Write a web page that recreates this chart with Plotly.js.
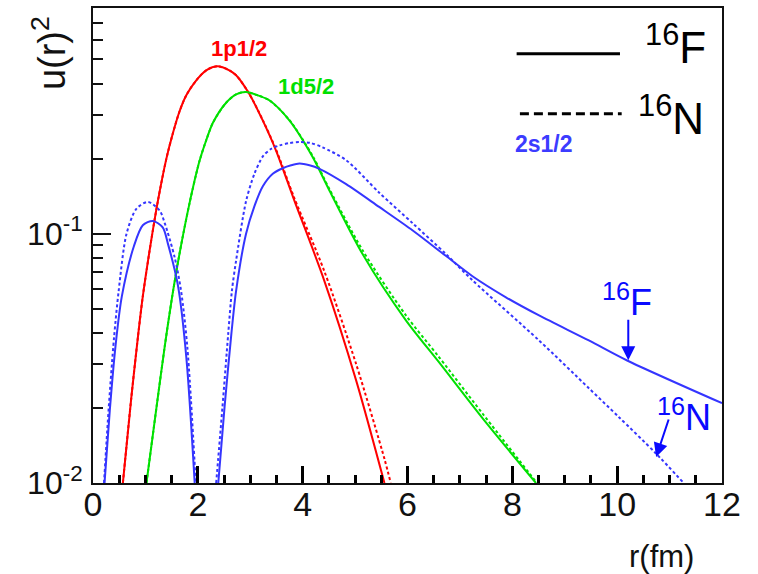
<!DOCTYPE html>
<html>
<head>
<meta charset="utf-8">
<script src="https://cdn.plot.ly/plotly-3.0.1.min.js"></script>
<style>html,body{margin:0;padding:0;background:#fff;}#chart{width:758px;height:574px;}</style>
</head>
<body>
<div id="chart"></div>
<script>
// ---- data (r in fm, u(r)^2) ----
const r_1p_F   = [0.57, 0.73, 0.86, 0.95, 1.10, 1.24, 1.40, 1.52, 1.65, 1.78, 1.97, 2.16, 2.38, 2.60, 2.73, 2.98, 3.24, 3.49, 3.84, 4.41, 5.02, 5.56];
const u2_1p_F  = [0.0100, 0.0219, 0.039, 0.056, 0.091, 0.136, 0.200, 0.251, 0.309, 0.359, 0.412, 0.452, 0.469, 0.452, 0.432, 0.364, 0.284, 0.216, 0.136, 0.065, 0.0258, 0.0100];
const r_1p_N   = [0.57, 0.73, 0.86, 0.95, 1.10, 1.24, 1.40, 1.52, 1.65, 1.78, 1.97, 2.16, 2.38, 2.60, 2.73, 2.98, 3.24, 3.49, 3.84, 4.41, 5.02, 5.56, 5.68];
const u2_1p_N  = [0.0100, 0.0219, 0.039, 0.056, 0.091, 0.136, 0.200, 0.251, 0.309, 0.359, 0.412, 0.452, 0.469, 0.452, 0.432, 0.364, 0.285, 0.218, 0.139, 0.071, 0.030, 0.0125, 0.0100];

const r_1d_F   = [1.02, 1.21, 1.37, 1.505, 1.65, 1.84, 2.03, 2.16, 2.29, 2.54, 2.73, 2.92, 3.14, 3.37, 3.75, 4.19, 4.51, 5.14, 5.97, 6.60, 7.43, 8.45];
const u2_1d_F  = [0.0100, 0.020, 0.0355, 0.055, 0.083, 0.132, 0.195, 0.237, 0.279, 0.335, 0.362, 0.370, 0.359, 0.342, 0.284, 0.203, 0.149, 0.083, 0.0449, 0.0305, 0.0182, 0.0100];
const r_1d_N   = [1.02, 1.21, 1.37, 1.505, 1.65, 1.84, 2.03, 2.16, 2.29, 2.54, 2.73, 2.92, 3.14, 3.37, 3.75, 4.19, 4.51, 5.14, 5.97, 6.60, 7.43, 8.47];
const u2_1d_N  = [0.0100, 0.020, 0.0355, 0.055, 0.083, 0.132, 0.195, 0.237, 0.279, 0.335, 0.362, 0.370, 0.359, 0.342, 0.285, 0.205, 0.151, 0.086, 0.047, 0.032, 0.019, 0.0100];

const r_2s_F   = [0.22, 0.32, 0.43, 0.55, 0.78, 0.95, 1.14, 1.33, 1.43, 1.62, 1.78, 1.94, null,
                  2.39, 2.51, 2.64, 2.73, 2.92, 3.08, 3.24, 3.43, 3.62, 3.78, 3.94, 4.13, 4.32, 4.83, 5.46, 6.10, 6.73, 7.24, 7.87, 8.51, 9.46, 10.19, 12.0];
const u2_2s_F  = [0.0100, 0.0195, 0.0355, 0.056, 0.089, 0.108, 0.1125, 0.106, 0.091, 0.062, 0.032, 0.0100, null,
                  0.0100, 0.0202, 0.0397, 0.059, 0.100, 0.129, 0.155, 0.174, 0.183, 0.188, 0.191, 0.188, 0.182, 0.158, 0.128, 0.103, 0.0815, 0.0675, 0.0557, 0.047, 0.0373, 0.031, 0.0209];
const r_2s_N   = [0.21, 0.30, 0.40, 0.49, 0.64, 0.83, 1.05, 1.27, 1.37, 1.56, 1.68, 1.80, 1.96, null,
                  2.35, 2.47, 2.58, 2.65, 2.73, 2.92, 3.08, 3.24, 3.40, 3.56, 3.75, 3.94, 4.15, 4.38, 4.83, 5.46, 6.10, 6.73, 7.24, 8.51, 9.46, 10.03, 10.73, 11.27];
const u2_2s_N  = [0.0100, 0.0200, 0.038, 0.059, 0.100, 0.126, 0.134, 0.124, 0.11, 0.080, 0.059, 0.035, 0.0100, null,
                  0.0100, 0.0202, 0.0397, 0.059, 0.078, 0.135, 0.174, 0.204, 0.219, 0.226, 0.231, 0.233, 0.231, 0.222, 0.197, 0.146, 0.110, 0.083, 0.065, 0.0373, 0.024, 0.0184, 0.0132, 0.0100];

const xMajorTicks = [0, 2, 4, 6, 8, 10, 12];
const yTicks = [0.01, 0.1];
const yTickText = ['10<sup>-2</sup>', '10<sup>-1</sup>'];
const yMinor = [0.02, 0.03, 0.04, 0.05, 0.06, 0.07, 0.08, 0.09, 0.2, 0.3, 0.4, 0.5, 0.6, 0.7, 0.8];

const RED = '#ff0000', GREEN = '#00e000', BLUE = '#3535ff';
const FONT = 'Liberation Sans, Arial, Helvetica, sans-serif';

function tr(x, y, color, dashed) {
  return {
    x: x, y: y, type: 'scatter', mode: 'lines', connectgaps: false, hoverinfo: 'skip',
    line: {color: color, width: 2, shape: 'spline', smoothing: 0.8, dash: dashed ? '3px,2.5px' : 'solid'},
    showlegend: false
  };
}

const data = [
  tr(r_1p_N, u2_1p_N, RED, true),
  tr(r_1p_F, u2_1p_F, RED, false),
  tr(r_1d_N, u2_1d_N, GREEN, true),
  tr(r_1d_F, u2_1d_F, GREEN, false),
  tr(r_2s_N, u2_2s_N, BLUE, true),
  tr(r_2s_F, u2_2s_F, BLUE, false)
];

function ann(x, y, text, size, color, extra) {
  return Object.assign({xref: 'paper', yref: 'paper', x: x, y: y, text: text, showarrow: false,
    xanchor: 'center', yanchor: 'middle', font: {size: size, color: color, family: FONT}}, extra || {});
}

const layout = {
  width: 758, height: 574,
  margin: {l: 93, r: 36, t: 8, b: 91},
  paper_bgcolor: '#fff', plot_bgcolor: '#fff',
  font: {family: FONT, color: '#111'},
  showlegend: false,
  xaxis: {
    range: [0, 12], tickmode: 'array', tickvals: xMajorTicks,
    ticks: 'inside', ticklen: 17, tickwidth: 3, tickcolor: '#000',
    showline: true, linewidth: 2, linecolor: '#111', mirror: true,
    showgrid: false, zeroline: false,
    tickfont: {size: 34, family: FONT, color: '#111'},
    ticklabelstandoff: -10,
    minor: {tickmode: 'linear', tick0: 0, dtick: 0.5, ticks: 'inside', ticklen: 8, tickwidth: 3, tickcolor: '#000', showgrid: false}
  },
  yaxis: {
    type: 'log', range: [-2, -0.095], tickmode: 'array', tickvals: yTicks, ticktext: yTickText,
    ticks: 'inside', ticklen: 18, tickwidth: 2, tickcolor: '#111',
    showline: true, linewidth: 2, linecolor: '#111', mirror: true,
    showgrid: false, zeroline: false,
    tickfont: {size: 32, family: FONT, color: '#111'},
    ticklabelstandoff: 2,
    minor: {tickmode: 'array', tickvals: yMinor, ticks: 'inside', ticklen: 10, tickwidth: 2, tickcolor: '#111', showgrid: false}
  },
  shapes: [
    {type: 'line', xref: 'paper', yref: 'paper', x0: 0.6735, x1: 0.8378, y0: 0.9036, y1: 0.9036, line: {color: '#000', width: 3}},
    {type: 'line', xref: 'paper', yref: 'paper', x0: 0.6787, x1: 0.8405, y0: 0.7774, y1: 0.7774, line: {color: '#000', width: 3, dash: '9px,5px'}}
  ],
  annotations: [
    ann(0.926, 0.923, '<sup>16</sup>F', 44, '#000'),
    ann(0.919, 0.774, '<sup>16</sup>N', 44, '#000'),
    ann(0.2317, 0.9143, '<b>1p1/2</b>', 22, RED),
    ann(0.3383, 0.8348, '<b>1d5/2</b>', 22, GREEN),
    ann(0.7169, 0.7127, '<b>2s1/2</b>', 23, '#3c3cff'),
    ann(0.8497, 0.3846, '<sup>16</sup>F', 36, '#0a0aff'),
    ann(0.9396, 0.1435, '<sup>16</sup>N', 36, '#0a0aff'),
    {xref: 'paper', yref: 'paper', x: 0.851, y: 0.2582, text: '', showarrow: true, ax: 0, ay: -42, arrowhead: 2, arrowsize: 1.4, arrowwidth: 2, arrowcolor: '#0a0aff'},
    {xref: 'paper', yref: 'paper', x: 0.8953, y: 0.0547, text: '', showarrow: true, ax: 13, ay: -39, arrowhead: 2, arrowsize: 1.4, arrowwidth: 2, arrowcolor: '#0a0aff'},
    ann(-0.0689, 0.9043, 'u(r)<sup>2</sup>', 38, '#111', {textangle: -90}),
    ann(0.9037, -0.154, 'r(fm)', 31, '#111')
  ]
};

Plotly.newPlot('chart', data, layout, {staticPlot: true, displayModeBar: false});
</script>
</body>
</html>
